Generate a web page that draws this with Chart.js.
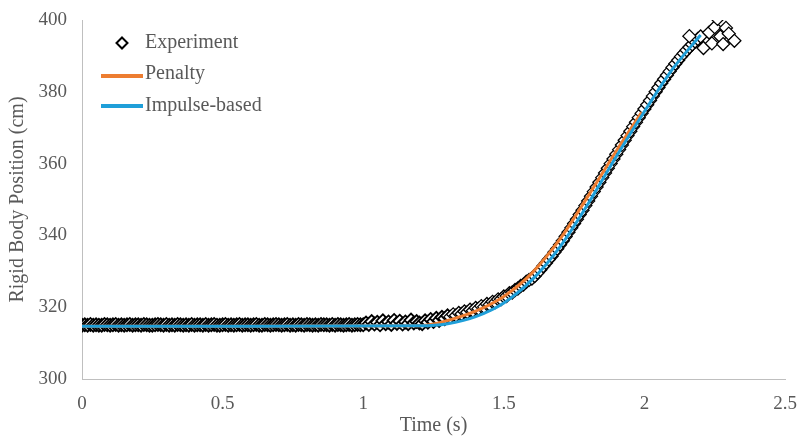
<!DOCTYPE html>
<html>
<head>
<meta charset="utf-8">
<script src="https://cdn.jsdelivr.net/npm/chart.js@4"></script>
<style>
  html, body { margin: 0; padding: 0; background: #fff; }
  #wrap { width: 803px; height: 441px; }
</style>
</head>
<body>
<div id="wrap"><canvas id="chart" width="803" height="441"></canvas></div>
<script>
"use strict";

// experiment samples (s, cm)
const expTime = [
  0.00,0.01,0.02,0.03,0.04,0.05,0.06,0.07,0.08,0.09,
  0.10,0.11,0.12,0.13,0.14,0.15,0.16,0.17,0.18,0.19,
  0.20,0.21,0.22,0.23,0.24,0.25,0.26,0.27,0.28,0.29,
  0.30,0.31,0.32,0.33,0.34,0.35,0.36,0.37,0.38,0.39,
  0.40,0.41,0.42,0.43,0.44,0.45,0.46,0.47,0.48,0.49,
  0.50,0.51,0.52,0.53,0.54,0.55,0.56,0.57,0.58,0.59,
  0.60,0.61,0.62,0.63,0.64,0.65,0.66,0.67,0.68,0.69,
  0.70,0.71,0.72,0.73,0.74,0.75,0.76,0.77,0.78,0.79,
  0.80,0.81,0.82,0.83,0.84,0.85,0.86,0.87,0.88,0.89,
  0.90,0.91,0.92,0.93,0.94,0.95,0.96,0.97,0.98,0.99,
  1.00,1.01,1.02,1.03,1.04,1.05,1.06,1.07,1.08,1.09,
  1.10,1.11,1.12,1.13,1.14,1.15,1.16,1.17,1.18,1.19,
  1.20,1.21,1.22,1.23,1.24,1.25,1.26,1.27,1.28,1.29,
  1.30,1.31,1.32,1.33,1.34,1.35,1.36,1.37,1.38,1.39,
  1.40,1.41,1.42,1.43,1.44,1.45,1.46,1.47,1.48,1.49,
  1.50,1.51,1.52,1.53,1.54,1.55,1.56,1.57,1.58,1.59,
  1.60,1.61,1.62,1.63,1.64,1.65,1.66,1.67,1.68,1.69,
  1.70,1.71,1.72,1.73,1.74,1.75,1.76,1.77,1.78,1.79,
  1.80,1.81,1.82,1.83,1.84,1.85,1.86,1.87,1.88,1.89,
  1.90,1.91,1.92,1.93,1.94,1.95,1.96,1.97,1.98,1.99,
  2.00,2.01,2.02,2.03,2.04,2.05,2.06,2.07,2.08,2.09,
  2.10,2.11,2.12,2.13,2.14,2.15,2.16,2.17,2.18,2.19,
  2.20,2.16,2.21,2.23,2.24,2.25,2.26,2.27,2.28,2.29,
  2.30,2.32
];
const expPos = [
  315.0,315.1,315.0,315.2,315.0,315.1,315.0,315.0,315.2,315.1,
  315.0,315.1,315.2,315.0,315.1,315.0,315.1,315.2,315.0,315.1,
  315.1,315.0,315.2,315.1,315.0,315.0,315.1,315.2,315.1,315.0,
  315.2,315.0,315.1,315.0,315.2,315.1,315.0,315.1,315.0,315.2,
  315.0,315.1,315.1,315.0,315.2,315.0,315.1,315.2,315.0,315.0,
  315.1,315.2,315.0,315.1,315.0,315.1,315.2,315.0,315.1,315.1,
  315.0,315.1,315.2,315.0,315.0,315.2,315.1,315.0,315.1,315.2,
  315.1,315.0,315.1,315.2,315.0,315.1,315.0,315.2,315.1,315.0,
  315.2,315.1,315.0,315.1,315.0,315.2,315.1,315.1,315.0,315.2,
  315.0,315.2,315.1,315.0,315.1,315.2,315.0,315.1,315.2,315.1,
  315.1,315.6,315.2,316.0,315.3,315.8,315.1,316.2,315.4,315.9,
  315.2,316.3,315.5,316.1,315.3,315.9,315.4,316.4,315.6,316.0,
  315.6,315.4,316.2,315.8,316.6,316.0,316.9,316.3,317.2,316.8,
  317.6,317.3,318.0,317.7,318.4,318.1,318.8,318.6,319.3,319.0,
  319.8,319.6,320.3,320.1,320.9,320.7,321.5,321.4,322.2,322.2,
  323.0,323.1,323.9,324.1,324.8,325.2,325.9,326.3,327.1,327.6,
  328.0,328.7,329.6,330.4,331.4,332.3,333.3,334.2,335.3,336.3,
  337.4,338.5,339.7,340.9,342.1,343.3,344.5,345.8,347.0,348.3,
  349.6,350.9,352.2,353.5,354.8,356.1,357.4,358.7,360.0,361.3,
  362.6,363.9,365.2,366.5,367.8,369.0,370.3,371.5,372.8,374.0,
  375.2,376.4,377.6,378.8,380.0,381.2,382.4,383.5,384.6,385.7,
  386.8,387.8,388.8,389.8,390.7,391.6,392.4,393.2,394.0,394.7,
  395.4,395.5,392.2,396.5,393.5,398.0,400.3,395.4,393.3,397.8,
  396.2,394.2
];

// penalty model
const penaltyTime = [0, 0.6, 1.2, 1.25, 1.3, 1.4, 1.5, 1.6, 1.7, 1.8, 1.9, 1.99];
const penaltyPos = [314.7, 314.7, 314.8, 315.3, 316.3, 318.9, 323.0, 329.5, 339.0, 351.0, 363.5, 374.3];

// impulse-based model
const impulseTime = [0, 0.6, 1.2, 1.3, 1.4, 1.5, 1.6, 1.7, 1.8, 1.9, 2.0, 2.1, 2.2];
const impulsePos = [314.7, 314.7, 314.8, 315.4, 317.4, 321.2, 327.6, 336.8, 348.8, 362.0, 374.5, 386.3, 395.8];

const xTicks = [0, 0.5, 1, 1.5, 2, 2.5];
const yTicks = [300, 320, 340, 360, 380, 400];

const seriesNames = ["Experiment", "Penalty", "Impulse-based"];
const orange = "#ED7D31";
const blue = "#1F9FD9";
const textGray = "#595959";
const serif = "'Liberation Serif', 'Times New Roman', serif";

function toPoints(xs, ys) {
  return xs.map((x, i) => ({ x: x, y: ys[i] }));
}

// legend sits inside the plot area, so draw it by hand
const legendPlugin = {
  id: "insideLegend",
  afterDraw(chart) {
    const ctx = chart.ctx;
    ctx.save();
    // diamond
    ctx.beginPath();
    ctx.moveTo(122, 37.5);
    ctx.lineTo(127.5, 43);
    ctx.lineTo(122, 48.5);
    ctx.lineTo(116.5, 43);
    ctx.closePath();
    ctx.fillStyle = "#fff";
    ctx.fill();
    ctx.lineWidth = 2;
    ctx.strokeStyle = "#000";
    ctx.stroke();
    // lines
    ctx.lineWidth = 4;
    ctx.strokeStyle = orange;
    ctx.beginPath();
    ctx.moveTo(101, 76);
    ctx.lineTo(143, 76);
    ctx.stroke();
    ctx.strokeStyle = blue;
    ctx.beginPath();
    ctx.moveTo(101, 106);
    ctx.lineTo(143, 106);
    ctx.stroke();
    // labels
    ctx.fillStyle = textGray;
    ctx.font = "20px " + serif;
    ctx.textBaseline = "middle";
    ctx.fillText(seriesNames[0], 145, 43);
    ctx.fillText(seriesNames[1], 145, 74);
    ctx.fillText(seriesNames[2], 145, 106);
    ctx.restore();
  }
};

const ctx = document.getElementById("chart").getContext("2d");

new Chart(ctx, {
  type: "scatter",
  data: {
    datasets: [
      {
        label: seriesNames[0],
        data: toPoints(expTime, expPos),
        pointStyle: "rectRot",
        pointRadius: 6.5,
        // thinner outlines on the rising part so the stripes show
        pointBorderWidth: (c) => (c.raw && c.raw.x > 1.3 ? 1.3 : 1.8),
        pointBorderColor: "#000",
        pointBackgroundColor: "#fff",
        showLine: false,
        order: 3
      },
      {
        label: seriesNames[1],
        data: toPoints(penaltyTime, penaltyPos),
        showLine: true,
        borderColor: orange,
        borderWidth: 3,
        pointRadius: 0,
        cubicInterpolationMode: "monotone",
        order: 2
      },
      {
        label: seriesNames[2],
        data: toPoints(impulseTime, impulsePos),
        showLine: true,
        borderColor: blue,
        borderWidth: 3,
        pointRadius: 0,
        cubicInterpolationMode: "monotone",
        order: 1
      }
    ]
  },
  options: {
    responsive: false,
    animation: false,
    layout: {
      autoPadding: false,
      padding: { top: 20, right: 18, bottom: 0, left: 0 }
    },
    plugins: {
      legend: { display: false },
      tooltip: { enabled: false }
    },
    scales: {
      x: {
        type: "linear",
        min: 0,
        max: 2.5,
        afterFit: (scale) => {
          scale.height = 62;
          scale.paddingLeft = 0;
          scale.paddingRight = 0;
        },
        afterBuildTicks: (scale) => { scale.ticks = xTicks.map(v => ({ value: v })); },
        grid: { display: false, drawTicks: false },
        border: { display: true, color: "#BFBFBF", width: 1 },
        ticks: {
          padding: 14,
          color: textGray,
          font: { family: serif, size: 19 },
          maxRotation: 0,
          callback: (v) => String(v)
        },
        title: {
          display: true,
          text: "Time (s)",
          color: textGray,
          font: { family: serif, size: 20 },
          padding: { top: 0, bottom: 3 }
        }
      },
      y: {
        min: 300,
        max: 400,
        afterFit: (scale) => {
          scale.width = 82;
          scale.paddingTop = 0;
          scale.paddingBottom = 0;
        },
        afterBuildTicks: (scale) => { scale.ticks = yTicks.map(v => ({ value: v })); },
        grid: { display: false, drawTicks: false },
        border: { display: true, color: "#BFBFBF", width: 1 },
        ticks: {
          padding: 15,
          color: textGray,
          font: { family: serif, size: 19 }
        },
        title: {
          display: true,
          text: "Rigid Body Position (cm)",
          color: textGray,
          font: { family: serif, size: 20 },
          padding: { top: 6, bottom: 0 }
        }
      }
    }
  },
  plugins: [legendPlugin]
});
</script>
</body>
</html>
